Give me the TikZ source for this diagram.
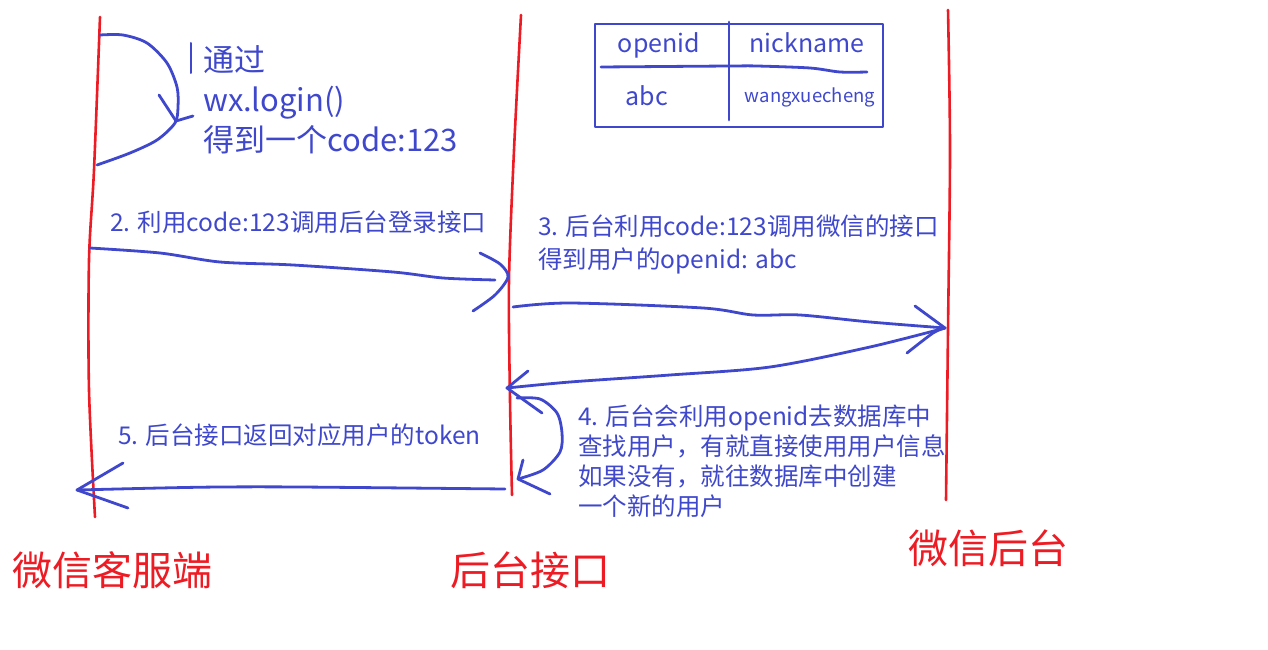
\documentclass[tikz,border=0pt]{standalone}
\usepackage{fontspec}
\setmainfont{Noto Sans CJK SC}
\definecolor{penblue}{HTML}{3F48CC}
\definecolor{penred}{HTML}{ED1C24}

\begin{document}
\begin{tikzpicture}[x=1pt, y=-1pt,
    lifeline/.style={draw=penred, line width=2.6pt, line cap=round},
    stroke/.style={draw=penblue, line width=2.8pt, line cap=round, line join=round},
    note/.style={text=penblue, inner sep=0pt, align=left},
    role/.style={text=penred, inner sep=0pt, anchor=base west, font=\fontsize{40}{40}\selectfont},
    cell/.style={text=penblue, inner sep=0pt},
]
    \useasboundingbox (0,0) rectangle (1268,650);

    % lifelines
    \draw[lifeline] plot[smooth] coordinates {(100,17) (94,170) (89,260) (89,390) (95,517)};
    \draw[lifeline] plot[smooth] coordinates {(521,15) (514,150) (509,280) (510,400) (512,495)};
    \draw[lifeline] plot[smooth] coordinates {(948,10) (950,150) (948,330) (946,500)};

    \node[role] (client) at (12,585) {微信客服端};
    \node[role] (server) at (450,585) {后台接口};
    \node[role] (wechat) at (908,563) {微信后台};

    % table
    \draw[stroke, line width=2pt] (595,24) rectangle (883,127);
    \draw[stroke] (729,22) -- (729,120);
    \draw[stroke] plot[smooth] coordinates {(601,67) (730,66) (757,66) (810,68) (840,72) (867,72)};
    \node[cell, font=\fontsize{25}{25}\selectfont] (colid) at (659,45) {openid};
    \node[cell, font=\fontsize{25}{25}\selectfont] (colname) at (807,43) {nickname};
    \node[cell, font=\fontsize{25}{25}\selectfont] (valid) at (647,96) {abc};
    \node[cell, font=\fontsize{18.5}{18.5}\selectfont] (valname) at (810,97) {wangxuecheng};

    % 1. self call
    \coordinate (s1a) at (100,35);
    \coordinate (s1b) at (97,165);
    \coordinate (tip1) at (176,121);
    \draw[stroke] plot[smooth] coordinates {(s1a) (123,35) (147,43) (167,63) (177,87) (178,107) (175,123) (157,140) (130,153) (s1b)};
    \draw[stroke] (159,95) -- (tip1) -- (193,116);
    \draw[stroke, line width=2pt] (191,43) -- (191,73);
    \node[note, anchor=north west, font=\fontsize{31}{40}\selectfont] (step1) at (203,45) {通过\\wx.login()\\得到一个code:123};

    % 2. login request
    \coordinate (a2s) at (90,248);
    \coordinate (a2e) at (495,280);
    \draw[stroke] plot[smooth] coordinates {(a2s) (160,253) (220,262) (293,265) (393,272) (443,278) (a2e)};
    \draw[stroke] plot[smooth] coordinates {(480,253) (500,264) (508,277) (495,295) (473,311)};
    \node[note, anchor=base west, font=\fontsize{24.5}{24.5}\selectfont] (step2) at (110,231) {2. 利用code:123调用后台登录接口};

    % 3. call wechat
    \coordinate (a3s) at (513,307);
    \coordinate (a3e) at (945,328);
    \draw[stroke] plot[smooth] coordinates {(a3s) (570,303) (703,308) (753,315) (800,315) (870,322) (a3e)};
    \draw[stroke] (915,306) -- (a3e);
    \draw[stroke] plot[smooth] coordinates {(a3e) (933,333) (907,353)};
    \node[note, anchor=north west, font=\fontsize{24.5}{33}\selectfont] (step3) at (538,215) {3. 后台利用code:123调用微信的接口\\得到用户的openid: abc};

    % openid back
    \coordinate (r3e) at (507,388);
    \draw[stroke] plot[smooth] coordinates {(a3e) (870,347) (770,367) (670,375) (570,382) (r3e)};
    \draw[stroke] (528,371) -- (r3e) -- (542,413);

    % 4. lookup
    \coordinate (l4s) at (517,398);
    \coordinate (l4e) at (518,479);
    \draw[stroke] plot[smooth] coordinates {(l4s) (540,399) (557,413) (562,433) (560,452) (543,470) (l4e)};
    \draw[stroke] (523,460) -- (l4e) -- (550,494);
    \node[note, anchor=north west, font=\fontsize{24.5}{30}\selectfont] (step4) at (578,405) {4. 后台会利用openid去数据库中\\查找用户，有就直接使用用户信息\\如果没有，就往数据库中创建\\一个新的用户};

    % 5. token back
    \coordinate (a5s) at (505,489);
    \coordinate (a5e) at (77,490);
    \draw[stroke] plot[smooth] coordinates {(a5s) (300,487) (220,487) (160,488) (a5e)};
    \draw[stroke] (123,463) -- (a5e) -- (128,508);
    \node[note, anchor=base west, font=\fontsize{24.5}{24.5}\selectfont] (step5) at (118,444) {5. 后台接口返回对应用户的token};
\end{tikzpicture}
\end{document}
